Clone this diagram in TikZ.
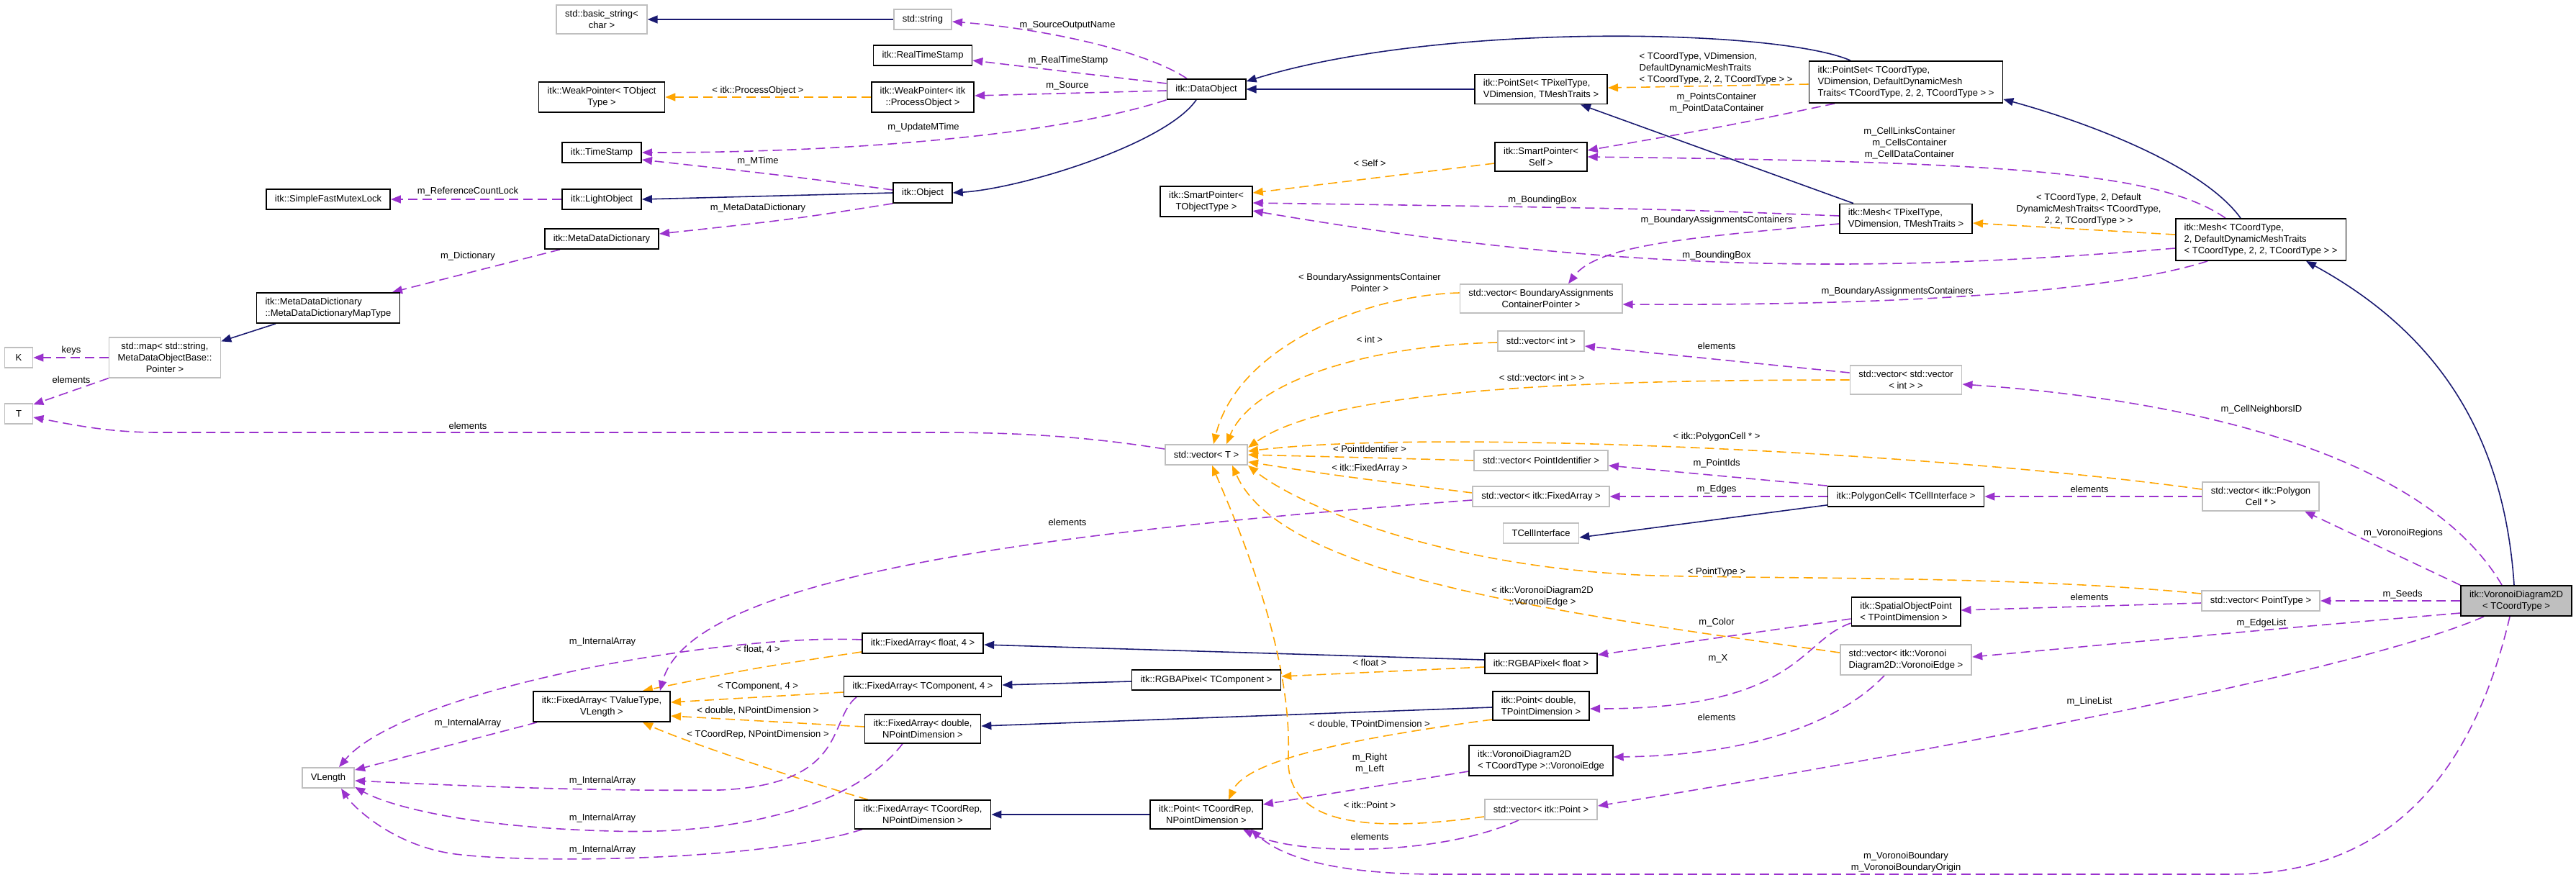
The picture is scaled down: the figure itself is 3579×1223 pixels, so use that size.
\documentclass[tikz,border=0pt]{standalone}
\usepackage{fontspec}
\setmainfont{Liberation Sans}
\usetikzlibrary{arrows.meta}
\definecolor{azul}{HTML}{191970}
\definecolor{morado}{HTML}{9A32CD}
\definecolor{naranja}{HTML}{FFA500}
\definecolor{gris}{HTML}{BFBFBF}
\pgfdeclarelayer{fondo}
\pgfsetlayers{fondo,main}
\tikzset{
	letra/.style={font=\fontsize{7.4}{9.1}\selectfont},
	clase/.style={letra, draw=black, line width=1pt, fill=white, inner xsep=0.24cm, inner ysep=0.14cm, minimum height=0.56cm, align=center},
	externa/.style={clase, draw=gris},
	actual/.style={clase, fill=gris},
	izq/.style={align=left},
	etiq/.style={letra, text=black, inner sep=0pt, align=center},
	punta/.style={-{Triangle[length=0.28cm,width=0.22cm]}},
	herencia/.style={color=azul, line width=0.9pt, punta},
	miembro/.style={color=morado, line width=0.9pt, dash pattern=on 0.26cm off 0.14cm, punta},
	plantilla/.style={color=naranja, line width=0.9pt, dash pattern=on 0.26cm off 0.14cm, punta},
}
\begin{document}
\begin{tikzpicture}[x=0.02cm, y=-0.02cm]
	\useasboundingbox (0,0) rectangle (3579,1223);
	%Clases
	\node[externa] (bstr) at (836,27) {std::basic\_string<\\char >};
	\node[externa] (str) at (1282,27) {std::string};
	\node[clase] (rts) at (1282,77) {itk::RealTimeStamp};
	\node[clase] (wpt) at (836,135) {itk::WeakPointer< TObject\\Type >};
	\node[clase] (wpp) at (1282,135) {itk::WeakPointer< itk\\::ProcessObject >};
	\node[clase] (dobj) at (1676,124) {itk::DataObject};
	\node[clase] (ts) at (836,212) {itk::TimeStamp};
	\node[clase] (lobj) at (836,277) {itk::LightObject};
	\node[clase] (mutex) at (456,277) {itk::SimpleFastMutexLock};
	\node[clase] (obj) at (1282,268) {itk::Object};
	\node[clase] (mdd) at (836,332) {itk::MetaDataDictionary};
	\node[clase,izq] (mapt) at (456,428) {itk::MetaDataDictionary\\::MetaDataDictionaryMapType};
	\node[externa] (map) at (229,497) {std::map< std::string,\\MetaDataObjectBase::\\Pointer >};
	\node[externa, minimum width=0.78cm] (K) at (26,497) {K};
	\node[externa, minimum width=0.78cm] (T) at (26,575) {T};
	\node[clase] (spobj) at (1676,280) {itk::SmartPointer<\\TObjectType >};
	\node[clase,izq] (psp) at (2141,124) {itk::PointSet< TPixelType,\\VDimension, TMeshTraits >};
	\node[clase,izq] (psc) at (2648,114) {itk::PointSet< TCoordType,\\VDimension, DefaultDynamicMesh\\Traits< TCoordType, 2, 2, TCoordType > >};
	\node[clase] (spself) at (2141,218) {itk::SmartPointer<\\Self >};
	\node[clase,izq] (meshp) at (2648,304) {itk::Mesh< TPixelType,\\VDimension, TMeshTraits >};
	\node[clase,izq] (meshc) at (3141,333) {itk::Mesh< TCoordType,\\2, DefaultDynamicMeshTraits\\< TCoordType, 2, 2, TCoordType > >};
	\node[externa] (vba) at (2141,415) {std::vector< BoundaryAssignments\\ContainerPointer >};
	\node[externa] (vint) at (2141,474) {std::vector< int >};
	\node[externa] (vvint) at (2648,528) {std::vector< std::vector\\< int > >};
	\node[externa] (vT) at (1676,632) {std::vector< T >};
	\node[externa] (vpid) at (2141,640) {std::vector< PointIdentifier >};
	\node[externa] (vfa) at (2141,690) {std::vector< itk::FixedArray >};
	\node[clase] (pcell) at (2648,690) {itk::PolygonCell< TCellInterface >};
	\node[externa] (tci) at (2141,741) {TCellInterface};
	\node[externa] (vpcell) at (3141,690) {std::vector< itk::Polygon\\Cell * >};
	\node[externa] (vpt) at (3141,835) {std::vector< PointType >};
	\node[actual] (vd) at (3496,835) {itk::VoronoiDiagram2D\\< TCoordType >};
	\node[clase,izq] (sop) at (2648,850) {itk::SpatialObjectPoint\\< TPointDimension >};
	\node[externa,izq] (vedge) at (2648,917) {std::vector< itk::Voronoi\\Diagram2D::VoronoiEdge >};
	\node[clase] (rgbaf) at (2141,922) {itk::RGBAPixel< float >};
	\node[clase,izq] (ptd) at (2141,981) {itk::Point< double,\\TPointDimension >};
	\node[clase,izq] (voredge) at (2141,1057) {itk::VoronoiDiagram2D\\< TCoordType >::VoronoiEdge};
	\node[externa] (vpoint) at (2141,1125) {std::vector< itk::Point >};
	\node[clase] (fa4) at (1282,894) {itk::FixedArray< float, 4 >};
	\node[clase] (fatc) at (1282,954) {itk::FixedArray< TComponent, 4 >};
	\node[clase] (rgbat) at (1676,945) {itk::RGBAPixel< TComponent >};
	\node[clase] (fad) at (1282,1013) {itk::FixedArray< double,\\NPointDimension >};
	\node[clase] (facr) at (1282,1132) {itk::FixedArray< TCoordRep,\\NPointDimension >};
	\node[clase] (pcr) at (1676,1132) {itk::Point< TCoordRep,\\NPointDimension >};
	\node[clase] (fav) at (836,982) {itk::FixedArray< TValueType,\\VLength >};
	\node[externa] (vlen) at (456,1081) {VLength};
	\begin{pgfonlayer}{fondo}
	%Herencia
	\draw[herencia] (str.west) -- (bstr.east);
	\draw[herencia] (obj.west) -- (lobj.east);
	\draw[herencia] ([shift={(-14,0)}]dobj.south) .. controls (1620,200) and (1420,262) .. (obj.east);
	\draw[herencia] (psp.west) -- (dobj.east);
	\draw[herencia] ([shift={(-77,0)}]psc.north) .. controls (2470,40) and (2000,30) .. ([shift={(0,4)}]dobj.north east);
	\draw[herencia] ([shift={(-73,0)}]meshp.north) -- ([shift={(55,0)}]psp.south);
	\draw[herencia] ([shift={(-28,0)}]meshc.north) .. controls (3060,230) and (2900,170) .. ([shift={(0,-6)}]psc.south east);
	\draw[herencia] ([shift={(-3,0)}]vd.north) .. controls (3480,620) and (3400,470) .. ([shift={(63,0)}]meshc.south);
	\draw[herencia] ([shift={(-73,0)}]mapt.south) -- ([shift={(0,6)}]map.north east);
	\draw[herencia] ([shift={(0,-3)}]pcell.south west) -- ([shift={(0,6)}]tci.east);
	\draw[herencia] ([shift={(0,2)}]rgbat.west) -- ([shift={(0,-2)}]fatc.east);
	\draw[herencia] ([shift={(0,-5)}]rgbaf.west) -- ([shift={(0,2)}]fa4.east);
	\draw[herencia] ([shift={(0,2)}]ptd.west) -- ([shift={(0,-4)}]fad.east);
	\draw[herencia] (pcr.west) -- (facr.east);
	%Plantillas
	\draw[plantilla] (wpp.west) -- (wpt.east) node[etiq] at (1053,126) {< itk::ProcessObject >};
	\draw[plantilla] ([shift={(0,3)}]psc.west) -- ([shift={(0,-2)}]psp.east) node[etiq,izq] at (2384,95) {< TCoordType, VDimension,\\DefaultDynamicMeshTraits\\< TCoordType, 2, 2, TCoordType > >};
	\draw[plantilla] ([shift={(0,-7)}]meshc.west) -- ([shift={(0,6)}]meshp.east) node[etiq] at (2902,291) {< TCoordType, 2, Default\\DynamicMeshTraits< TCoordType,\\2, 2, TCoordType > >};
	\draw[plantilla] ([shift={(0,9)}]spself.west) -- ([shift={(0,-12)}]spobj.east) node[etiq] at (1903,227) {< Self >};
	\draw[plantilla] ([shift={(0,-8)}]vba.west) .. controls (1900,410) and (1720,480) .. ([shift={(10,0)}]vT.north) node[etiq] at (1903,393) {< BoundaryAssignmentsContainer\\Pointer >};
	\draw[plantilla] ([shift={(0,2)}]vint.west) .. controls (1900,480) and (1740,530) .. ([shift={(28,0)}]vT.north) node[etiq] at (1903,472) {< int >};
	\draw[plantilla] (vvint.west) .. controls (2200,528) and (1850,540) .. ([shift={(0,-10)}]vT.east) node[etiq] at (2142,525) {< std::vector< int > >};
	\draw[plantilla] ([shift={(0,-10)}]vpcell.west) .. controls (2700,630) and (2000,595) .. ([shift={(0,-5)}]vT.east) node[etiq] at (2385,607) {< itk::PolygonCell * >};
	\draw[plantilla] (vpid.west) .. controls (1900,636) .. (vT.east) node[etiq] at (1903,624) {< PointIdentifier >};
	\draw[plantilla] ([shift={(0,-5)}]vfa.west) .. controls (1850,660) .. ([shift={(0,10)}]vT.east) node[etiq] at (1903,651) {< itk::FixedArray >};
	\draw[plantilla] ([shift={(0,-10)}]vpt.west) .. controls (2800,800) and (2500,805) .. (2300,800) .. controls (2000,790) and (1800,700) .. (vT.south east) node[etiq] at (2385,795) {< PointType >};
	\draw[plantilla] ([shift={(0,-10)}]vedge.west) .. controls (2150,850) and (1780,800) .. ([shift={(36,0)}]vT.south) node[etiq] at (2143,829) {< itk::VoronoiDiagram2D\\::VoronoiEdge >};
	\draw[plantilla] ([shift={(0,10)}]vpoint.west) .. controls (1880,1160) and (1785,1140) .. (1790,1050) .. controls (1795,900) and (1715,720) .. ([shift={(8,0)}]vT.south) node[etiq] at (1903,1119) {< itk::Point >};
	\draw[plantilla] ([shift={(0,12)}]fa4.west) .. controls (1050,928) .. ([shift={(57,0)}]fav.north) node[etiq] at (1053,903) {< float, 4 >};
	\draw[plantilla] ([shift={(0,8)}]fatc.west) -- ([shift={(0,-6)}]fav.east) node[etiq] at (1053,954) {< TComponent, 4 >};
	\draw[plantilla] ([shift={(0,-3)}]fad.west) -- ([shift={(0,13)}]fav.east) node[etiq] at (1053,988) {< double, NPointDimension >};
	\draw[plantilla] ([shift={(-76,0)}]facr.north) .. controls (1100,1080) and (950,1030) .. ([shift={(57,0)}]fav.south) node[etiq] at (1053,1021) {< TCoordRep, NPointDimension >};
	\draw[plantilla] ([shift={(0,5)}]rgbaf.west) -- ([shift={(0,-5)}]rgbat.east) node[etiq] at (1903,921) {< float >};
	\draw[plantilla] ([shift={(0,19)}]ptd.west) .. controls (1850,1030) and (1730,1060) .. ([shift={(31,0)}]pcr.north) node[etiq] at (1903,1007) {< double, TPointDimension >};
	%Miembros
	\draw[miembro] ([shift={(-27,0)}]dobj.north) .. controls (1590,70) and (1450,40) .. ([shift={(0,3)}]str.east) node[etiq] at (1483,35) {m\_SourceOutputName};
	\draw[miembro] ([shift={(0,-8)}]dobj.west) -- ([shift={(0,7)}]rts.east) node[etiq] at (1484,84) {m\_RealTimeStamp};
	\draw[miembro] ([shift={(0,2)}]dobj.west) -- ([shift={(0,-2)}]wpp.east) node[etiq] at (1483,119) {m\_Source};
	\draw[miembro] (dobj.south west) .. controls (1480,185) and (1200,212) .. (ts.east) node[etiq] at (1283,177) {m\_UpdateMTime};
	\draw[miembro] ([shift={(0,-4)}]obj.west) .. controls (1100,245) .. ([shift={(0,10)}]ts.east) node[etiq] at (1053,224) {m\_MTime};
	\draw[miembro] (obj.south west) .. controls (1100,305) .. ([shift={(0,-7)}]mdd.east) node[etiq] at (1053,289) {m\_MetaDataDictionary};
	\draw[miembro] (lobj.west) -- (mutex.east) node[etiq] at (650,266) {m\_ReferenceCountLock};
	\draw[miembro] ([shift={(-58,0)}]mdd.south) -- ([shift={(89,0)}]mapt.north) node[etiq] at (650,356) {m\_Dictionary};
	\draw[miembro] (map.west) -- (K.east) node[etiq] at (99,487) {keys};
	\draw[miembro] (map.south west) -- ([shift={(0,2)}]T.north east) node[etiq] at (99,528) {elements};
	\draw[miembro] ([shift={(0,-8)}]vT.west) .. controls (1500,605) and (1400,601) .. (1300,601) -- (220,601) .. controls (150,601) and (100,590) .. ([shift={(0,5)}]T.east) node[etiq] at (650,592) {elements};
	\draw[miembro] ([shift={(-99,0)}]psc.south) .. controls (2400,175) .. ([shift={(0,-9)}]spself.east) node[etiq] at (2385,143) {m\_PointsContainer\\m\_PointDataContainer};
	\draw[miembro] ([shift={(-49,0)}]meshc.north) .. controls (3000,240) and (2800,225) .. (spself.east) node[etiq] at (2653,199) {m\_CellLinksContainer\\m\_CellsContainer\\m\_CellDataContainer};
	\draw[miembro] ([shift={(0,-4)}]meshp.west) .. controls (2300,290) .. ([shift={(0,2)}]spobj.east) node[etiq] at (2143,278) {m\_BoundingBox};
	\draw[miembro] ([shift={(0,12)}]meshc.west) .. controls (2600,380) and (2250,380) .. ([shift={(0,13)}]spobj.east) node[etiq] at (2385,355) {m\_BoundingBox};
	\draw[miembro] ([shift={(0,7)}]meshp.west) .. controls (2350,330) and (2220,340) .. ([shift={(38,0)}]vba.north) node[etiq] at (2385,306) {m\_BoundaryAssignmentsContainers};
	\draw[miembro] ([shift={(-74,0)}]meshc.south) .. controls (2950,400) and (2700,425) .. ([shift={(0,8)}]vba.east) node[etiq] at (2636,405) {m\_BoundaryAssignmentsContainers};
	\draw[miembro] ([shift={(0,-10)}]vvint.west) -- ([shift={(0,7)}]vint.east) node[etiq] at (2385,481) {elements};
	\draw[miembro] ([shift={(-20,0)}]vd.north) .. controls (3380,650) and (3100,560) .. ([shift={(0,6)}]vvint.east) node[etiq] at (3142,569) {m\_CellNeighborsID};
	\draw[miembro] (pcell.north west) -- ([shift={(0,7)}]vpid.east) node[etiq] at (2385,644) {m\_PointIds};
	\draw[miembro] (pcell.west) -- (vfa.east) node[etiq] at (2385,680) {m\_Edges};
	\draw[miembro] (vpcell.west) -- (pcell.east) node[etiq] at (2903,680) {elements};
	\draw[miembro] (vd.north west) -- ([shift={(61,0)}]vpcell.south) node[etiq] at (3339,741) {m\_VoronoiRegions};
	\draw[miembro] ([shift={(0,5)}]vfa.west) .. controls (1450,740) and (960,800) .. ([shift={(81,0)}]fav.north) node[etiq] at (1483,726) {elements};
	\draw[miembro] ([shift={(0,-5)}]fa4.west) .. controls (1000,880) and (560,960) .. ([shift={(15,0)}]vlen.north) node[etiq] at (837,892) {m\_InternalArray};
	\draw[miembro] ([shift={(-90,0)}]fav.south) -- ([shift={(0,4)}]vlen.north east) node[etiq] at (650,1005) {m\_InternalArray};
	\draw[miembro] ([shift={(-92,0)}]fatc.south) .. controls (1150,1000) and (1180,1090) .. (1000,1098) .. controls (800,1100) and (600,1090) .. ([shift={(0,4)}]vlen.east) node[etiq] at (837,1085) {m\_InternalArray};
	\draw[miembro] ([shift={(-28,0)}]fad.south) .. controls (1180,1130) and (1000,1160) .. (850,1155) .. controls (650,1150) and (540,1120) .. ([shift={(0,-2)}]vlen.south east) node[etiq] at (837,1137) {m\_InternalArray};
	\draw[miembro] ([shift={(-84,0)}]facr.south) .. controls (1050,1200) and (700,1200) .. (620,1185) .. controls (540,1170) and (490,1120) .. ([shift={(18,0)}]vlen.south) node[etiq] at (837,1181) {m\_InternalArray};
	\draw[miembro] ([shift={(0,10)}]sop.west) -- ([shift={(0,3)}]rgbaf.north east) node[etiq] at (2385,865) {m\_Color};
	\draw[miembro] ([shift={(0,16)}]sop.west) .. controls (2500,890) and (2500,985) .. ([shift={(0,4)}]ptd.east) node[etiq] at (2387,915) {m\_X};
	\draw[miembro] ([shift={(0,3)}]vpt.west) -- ([shift={(0,-2)}]sop.east) node[etiq] at (2903,830) {elements};
	\draw[miembro] (vd.west) -- (vpt.east) node[etiq] at (3338,826) {m\_Seeds};
	\draw[miembro] ([shift={(0,17)}]vd.west) .. controls (3150,875) .. ([shift={(0,-4)}]vedge.east) node[etiq] at (3142,866) {m\_EdgeList};
	\draw[miembro] ([shift={(-30,0)}]vedge.south) .. controls (2550,1010) and (2420,1050) .. ([shift={(0,-5)}]voredge.east) node[etiq] at (2385,997) {elements};
	\draw[miembro] ([shift={(0,15)}]voredge.west) -- ([shift={(0,-14)}]pcr.east) node[etiq] at (1903,1061) {m\_Right\\m\_Left};
	\draw[miembro] ([shift={(-45,0)}]vd.south) .. controls (3250,945) and (2500,1075) .. ([shift={(0,-5)}]vpoint.east) node[etiq] at (2903,975) {m\_LineList};
	\draw[miembro] ([shift={(-31,0)}]vpoint.south) .. controls (2000,1190) and (1800,1190) .. ([shift={(51,0)}]pcr.south) node[etiq] at (1903,1163) {elements};
	\draw[miembro] ([shift={(-9,0)}]vd.south) .. controls (3430,1100) and (3300,1215) .. (3100,1215) -- (2000,1215) .. controls (1850,1215) and (1780,1190) .. ([shift={(62,0)}]pcr.south) node[etiq] at (2648,1198) {m\_VoronoiBoundary\\m\_VoronoiBoundaryOrigin};
	\end{pgfonlayer}
\end{tikzpicture}
\end{document}
